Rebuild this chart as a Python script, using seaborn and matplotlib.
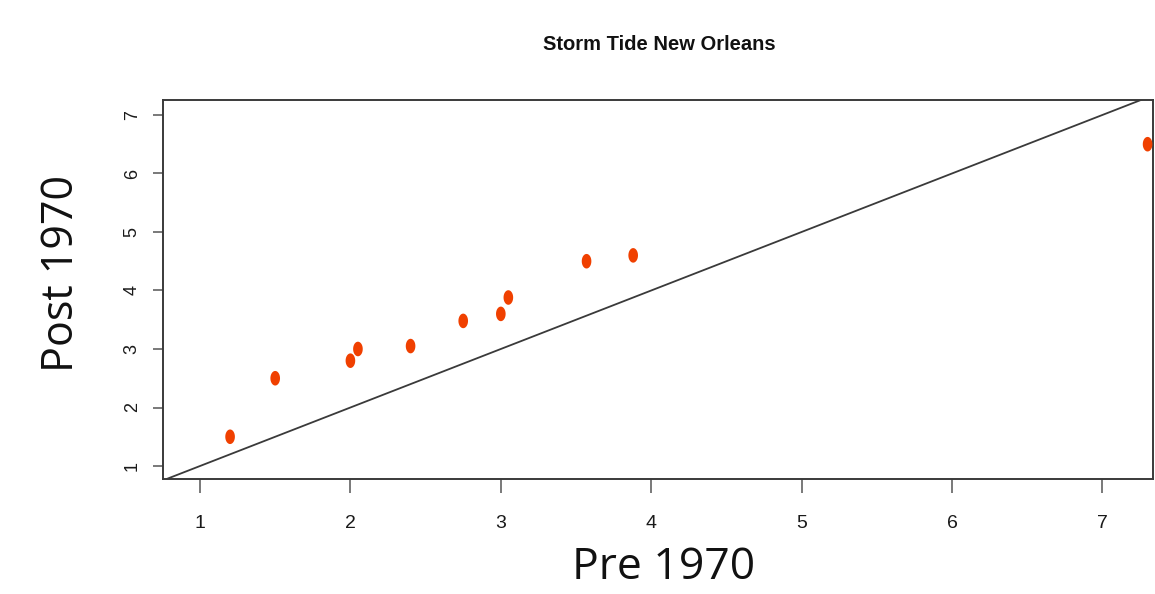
import matplotlib
matplotlib.use("Agg")
import matplotlib.pyplot as plt
from matplotlib.path import Path
import numpy as np
import pandas as pd
import seaborn as sns

# Storm tide quantiles, New Orleans (metres)
pre_1970 = [1.20, 1.50, 2.00, 2.05, 2.40, 2.75, 3.00, 3.05, 3.57, 3.88, 7.30]
post_1970 = [1.50, 2.50, 2.80, 3.00, 3.05, 3.48, 3.60, 3.88, 4.50, 4.60, 6.50]
tick_values = [1, 2, 3, 4, 5, 6, 7]

df = pd.DataFrame({"pre": pre_1970, "post": post_1970})

sns.set_theme(style="white")
sans = ["Liberation Sans", "DejaVu Sans"]
plt.rcParams["font.family"] = sans

fig = plt.figure(figsize=(11.55, 5.94), dpi=100)
ax = fig.add_axes([163 / 1155, 1 - 479 / 594, (1153 - 163) / 1155, (479 - 99.5) / 594])

# tall ellipse marker
t = np.linspace(0, 2 * np.pi, 60)
ellipse = Path(np.column_stack([0.66 * np.cos(t), np.sin(t)]), closed=True)

sns.scatterplot(data=df, x="pre", y="post", ax=ax, marker=ellipse, s=110,
                color="#F04000", edgecolor="none", linewidth=0, zorder=3,
                clip_on=False)

# 1:1 reference line
ax.axline((tick_values[0], tick_values[0]), (tick_values[-1], tick_values[-1]),
          color="#3a3a3a", lw=1.3, zorder=2)

ax.set_xlim(0.754, 7.336)
ax.set_ylim(0.778, 7.264)
ax.set_xticks(tick_values)
ax.set_yticks(tick_values)
ax.set_xticklabels([str(v) for v in tick_values])
ax.set_yticklabels([str(v) for v in tick_values], rotation=90, va="center")
ax.set_xlabel("")
ax.set_ylabel("")

for sp in ax.spines.values():
    sp.set_visible(True)
    sp.set_color("#3a3a3a")
    sp.set_linewidth(1.4)

ax.tick_params(axis="x", direction="out", length=10, width=1.1, color="#555555",
               pad=16, labelsize=14, labelcolor="#1a1a1a", bottom=True)
ax.tick_params(axis="y", direction="out", length=7, width=1.1, color="#555555",
               pad=9, labelsize=13, labelcolor="#1a1a1a", left=True)

fig.text(659 / 1155, 1 - 45 / 594, "Storm Tide New Orleans", ha="center", va="center",
         fontsize=14.5, fontweight="bold", family=sans, color="#111111")

fig.text(664 / 1155, 1 - 568 / 594, "Pre 1970", ha="center", va="center",
         fontsize=32, family=["Open Sans", "DejaVu Sans"], color="#111111")
fig.text(62 / 1155, 1 - 274 / 594, "Post 1970", ha="center", va="center",
         rotation=90, fontsize=31, family=["Open Sans", "DejaVu Sans"], color="#111111")

fig.savefig("out.png", dpi=100, facecolor="white")
